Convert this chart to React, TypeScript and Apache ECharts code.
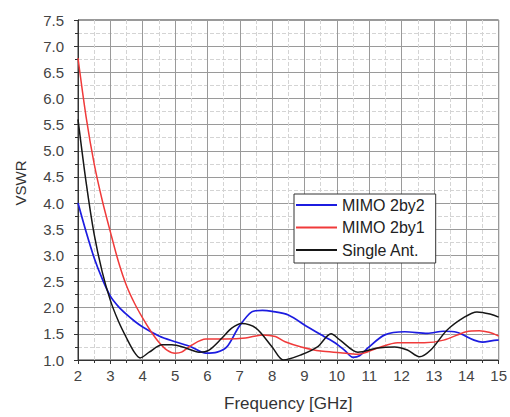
import React, { useEffect, useRef } from "react";
import * as echarts from "echarts";

const seriesNames = ["MIMO 2by2", "MIMO 2by1", "Single Ant."];

const blueX = [2, 2.25, 2.5, 2.75, 3.0, 3.25, 3.5, 3.75, 4.0, 4.5, 5.0, 5.5, 5.95, 6.3, 6.6, 6.97, 7.37, 7.7, 8.0, 8.5, 9.1, 9.6, 9.94, 10.25, 10.5, 10.7, 10.96, 11.48, 12.1, 12.8, 13.3, 13.7, 14.24, 14.5, 14.95, 15];
const blueY = [4.0, 3.45, 2.95, 2.55, 2.22, 2.02, 1.87, 1.74, 1.63, 1.46, 1.35, 1.25, 1.13, 1.15, 1.25, 1.63, 1.92, 1.95, 1.93, 1.86, 1.63, 1.45, 1.33, 1.18, 1.05, 1.08, 1.23, 1.48, 1.54, 1.51, 1.55, 1.53, 1.38, 1.34, 1.38, 1.38];

const redX = [2, 2.25, 2.5, 2.75, 3.0, 3.25, 3.5, 3.75, 4.0, 4.25, 4.5, 4.75, 5.0, 5.2, 5.5, 5.95, 6.57, 7.18, 7.7, 8.1, 8.4, 8.9, 9.5, 10.1, 10.65, 11.26, 11.88, 12.7, 13.3, 14.0, 14.4, 14.7, 15];
const redY = [6.77, 5.65, 4.75, 4.05, 3.45, 2.88, 2.42, 2.08, 1.8, 1.55, 1.34, 1.19, 1.13, 1.15, 1.28, 1.4, 1.4, 1.42, 1.48, 1.45, 1.35, 1.25, 1.17, 1.14, 1.11, 1.23, 1.33, 1.33, 1.38, 1.54, 1.56, 1.53, 1.46];

const blackX = [2, 2.25, 2.5, 2.75, 3.0, 3.25, 3.5, 3.75, 3.92, 4.2, 4.6, 4.9, 5.33, 5.74, 6.05, 6.45, 6.75, 7.06, 7.5, 8.0, 8.35, 8.9, 9.4, 9.82, 10.1, 10.65, 11.26, 11.78, 12.18, 12.55, 12.9, 13.4, 13.94, 14.33, 14.73, 15];
const blackY = [5.6, 4.4, 3.4, 2.68, 2.14, 1.74, 1.42, 1.14, 1.04, 1.15, 1.29, 1.29, 1.23, 1.15, 1.19, 1.42, 1.61, 1.7, 1.61, 1.25, 1.0, 1.1, 1.25, 1.5, 1.38, 1.15, 1.23, 1.25, 1.19, 1.06, 1.19, 1.57, 1.82, 1.92, 1.88, 1.82];

const colors = ["#1c1ce0", "#f03a3a", "#161616"];

const pairs = (xs: number[], ys: number[]) => xs.map((x, i) => [x, ys[i]]);

export default function App() {
  const ref = useRef<HTMLDivElement>(null);
  useEffect(() => {
    if (!ref.current) return;
    const chart = echarts.init(ref.current, undefined, { renderer: "svg" });
    const font = "'Liberation Sans', Arial, sans-serif";
    const axisCommon = {
      axisLine: { show: true, onZero: false, lineStyle: { color: "#333", width: 1 } },
      axisTick: { show: true, inside: false, length: 4, lineStyle: { color: "#333" } },
      minorTick: { show: true, splitNumber: 2, length: 3, lineStyle: { color: "#333" } },
      splitLine: { show: true, lineStyle: { color: "#9a9a9a", width: 1 } },
      minorSplitLine: { show: true, lineStyle: { color: "#d4d4d4", width: 1, type: "dashed" } },
    };
    chart.setOption({
      animation: false,
      backgroundColor: "#fff",
      textStyle: { fontFamily: font },
      grid: { left: 78, right: 8, top: 20, bottom: 57, show: true, borderColor: "#333", borderWidth: 1 },
      legend: {
        data: seriesNames,
        orient: "vertical",
        left: 294,
        top: 194,
        icon: "rect",
        itemWidth: 41,
        itemHeight: 2,
        itemGap: 6.5,
        padding: [3, 11, 5, 2],
        backgroundColor: "#fff",
        borderColor: "#333",
        borderWidth: 1,
        borderRadius: 0,
        textStyle: { fontSize: 16, color: "#222", fontFamily: font, lineHeight: 16 },
      },
      xAxis: {
        type: "value",
        min: 2,
        max: 15,
        interval: 1,
        name: "Frequency [GHz]",
        nameLocation: "middle",
        nameGap: 35,
        nameTextStyle: { fontSize: 17, color: "#333", fontFamily: font },
        axisLabel: { fontSize: 15, color: "#444", margin: 8, fontFamily: font },
        ...axisCommon,
      },
      yAxis: {
        type: "value",
        min: 1,
        max: 7.5,
        interval: 0.5,
        name: "VSWR",
        nameLocation: "middle",
        nameGap: 50,
        nameRotate: 90,
        nameTextStyle: { fontSize: 15, color: "#333", fontFamily: font, padding: [0, 0, 0, 14] },
        axisLabel: { fontSize: 15, color: "#444", margin: 14, fontFamily: font, formatter: (v: number) => v.toFixed(1) },
        ...axisCommon,
      },
      series: [
        { name: seriesNames[0], type: "line", data: pairs(blueX, blueY), smooth: 0.3, showSymbol: false, lineStyle: { color: colors[0], width: 1.7 }, itemStyle: { color: colors[0] } },
        { name: seriesNames[1], type: "line", data: pairs(redX, redY), smooth: 0.3, showSymbol: false, lineStyle: { color: colors[1], width: 1.5 }, itemStyle: { color: colors[1] } },
        { name: seriesNames[2], type: "line", data: pairs(blackX, blackY), smooth: 0.3, showSymbol: false, lineStyle: { color: colors[2], width: 1.5 }, itemStyle: { color: colors[2] } },
      ],
    });
    return () => chart.dispose();
  }, []);
  return <div ref={ref} style={{ width: 510, height: 417, position: "absolute", left: 0, top: 0 }} />;
}
